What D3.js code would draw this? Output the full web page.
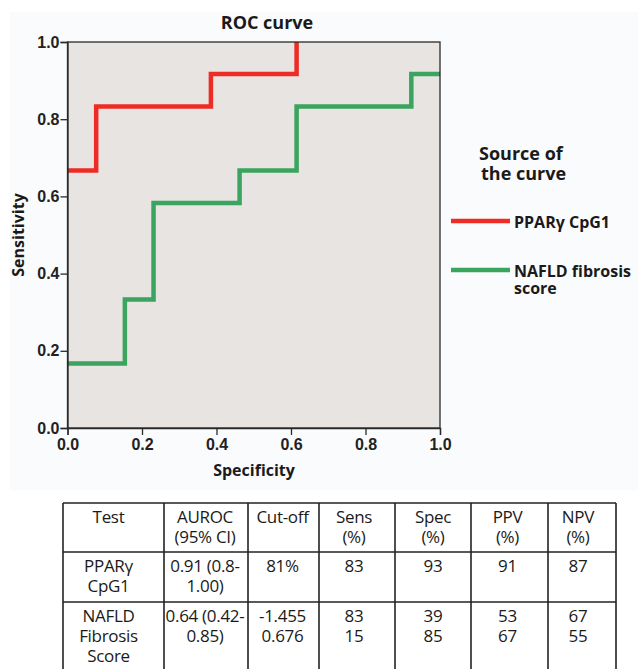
<!DOCTYPE html>
<html>
<head>
<meta charset="utf-8">
<script src="https://cdn.jsdelivr.net/npm/d3@7"></script>
<style>
  body { margin: 0; background: #fff; }
  svg text { font-family: "Open Sans", "DejaVu Sans", sans-serif; fill: #1a1a1a; }
  .tick text { font-family: "Liberation Sans", Arial, sans-serif; font-weight: bold; font-size: 16px; fill: #222; }
</style>
</head>
<body>
<div id="chart"></div>
<script>
// ROC data: x is the axis labelled "Specificity", y is sensitivity
var pparSpec = [0, 0.077, 0.385, 0.615];
var pparSens = [0.667, 0.833, 0.917, 1.0];
var naflSpec = [0, 0.154, 0.231, 0.462, 0.615, 0.923, 1.0];
var naflSens = [0.167, 0.333, 0.583, 0.667, 0.833, 0.917, 0.917];

var seriesNames = ["PPARγ CpG1", ["NAFLD fibrosis", "score"]];
var seriesColors = ["#ee2b25", "#3ba45e"];
var axisTicks = [0, 0.2, 0.4, 0.6, 0.8, 1.0];

// table
var tableHeader = [["Test"], ["AUROC", "(95% CI)"], ["Cut-off"], ["Sens", "(%)"], ["Spec", "(%)"], ["PPV", "(%)"], ["NPV", "(%)"]];
var tableRows = [
    [["PPARγ", "CpG1"], ["0.91 (0.8-", "1.00)"], ["81%"], ["83"], ["93"], ["91"], ["87"]],
    [["NAFLD", "Fibrosis", "Score"], ["0.64 (0.42-", "0.85)"], ["-1.455", "0.676"], ["83", "15"], ["39", "85"], ["53", "67"], ["67", "55"]]
];
var colWidths = [101, 84, 71, 76, 76, 77, 68];

var W = 638, H = 669;
var svg = d3.select("#chart").append("svg")
    .attr("width", W).attr("height", H);

// figure background (very light blue-white)
svg.append("rect").attr("x", 10).attr("y", 12)
    .attr("width", W - 10).attr("height", 478)
    .attr("fill", "#fafbfd");

var x = d3.scaleLinear().domain([0, 1]).range([67.5, 440]);
var y = d3.scaleLinear().domain([0, 1]).range([428, 42]);

// plot area
svg.append("rect")
    .attr("x", x(0)).attr("y", y(1))
    .attr("width", x(1) - x(0)).attr("height", y(0) - y(1))
    .attr("fill", "#e7e4e2");

var line = d3.line()
    .x(function(d) { return x(d[0]); })
    .y(function(d) { return y(d[1]); })
    .curve(d3.curveStepAfter);

var curves = [d3.zip(pparSpec, pparSens), d3.zip(naflSpec, naflSens)];
svg.selectAll("path.roc").data(curves).enter().append("path")
    .attr("class", "roc")
    .attr("d", line)
    .attr("fill", "none")
    .attr("stroke", function(d, i) { return seriesColors[i]; })
    .attr("stroke-width", 4.5)
    .attr("stroke-linejoin", "miter");

// frame
svg.append("rect")
    .attr("x", x(0)).attr("y", y(1))
    .attr("width", x(1) - x(0)).attr("height", y(0) - y(1))
    .attr("fill", "none").attr("stroke", "#2a2a2a").attr("stroke-width", 1.3);

var fmt = d3.format(".1f");
var xAxis = svg.append("g").attr("transform", "translate(0," + y(0) + ")")
    .call(d3.axisBottom(x).tickValues(axisTicks).tickFormat(fmt).tickSize(7).tickPadding(4));
var yAxis = svg.append("g").attr("transform", "translate(" + x(0) + ",0)")
    .call(d3.axisLeft(y).tickValues(axisTicks).tickFormat(fmt).tickSize(7).tickPadding(1));
[xAxis, yAxis].forEach(function(a) {
    a.select(".domain").attr("stroke", "#2a2a2a").attr("stroke-width", 1.3);
    a.selectAll(".tick line").attr("stroke", "#2a2a2a").attr("stroke-width", 1.3);
});

// titles
svg.append("text").attr("x", 267).attr("y", 29)
    .attr("text-anchor", "middle").attr("font-weight", "bold").attr("font-size", 18)
    .text("ROC curve");
svg.append("text").attr("x", 254).attr("y", 476)
    .attr("text-anchor", "middle").attr("font-weight", "bold").attr("font-size", 16)
    .text("Specificity");
svg.append("text").attr("transform", "translate(24,235) rotate(-90)")
    .attr("text-anchor", "middle").attr("font-weight", "bold").attr("font-size", 16)
    .text("Sensitivity");

// legend
var lg = svg.append("g");
lg.append("text").attr("x", 479).attr("y", 160)
    .attr("font-weight", "bold").attr("font-size", 18).text("Source of");
lg.append("text").attr("x", 481).attr("y", 180)
    .attr("font-weight", "bold").attr("font-size", 18).text("the curve");

var legendY = [221, 270];
var items = lg.selectAll("g.item").data(seriesNames).enter().append("g")
    .attr("class", "item")
    .attr("transform", function(d, i) { return "translate(0," + legendY[i] + ")"; });
items.append("line").attr("x1", 451).attr("x2", 510)
    .attr("stroke", function(d, i) { return seriesColors[i]; })
    .attr("stroke-width", 4.5);
items.append("text").attr("x", 514).attr("y", 7)
    .attr("font-weight", "bold").attr("font-size", 16)
    .selectAll("tspan")
    .data(function(d) { return [].concat(d); })
    .enter().append("tspan")
    .attr("x", 514).attr("dy", function(d, j) { return j ? 17 : 0; })
    .text(function(d) { return d; });

// table
var tableX = 63, tableTop = 503;
var rowHeights = [49, 50, 80];
var colEdges = [tableX].concat(Array.from(d3.cumsum(colWidths), function(v) { return tableX + v; }));
var rowEdges = [tableTop].concat(Array.from(d3.cumsum(rowHeights), function(v) { return tableTop + v; }));
var colShift = [-5, -1, -1, -3, 0, -2, -4];
var lineGap = 20;

var tbl = svg.append("g");
tbl.append("rect").attr("x", tableX).attr("y", tableTop)
    .attr("width", colEdges[colEdges.length - 1] - tableX).attr("height", H)
    .attr("fill", "#fff");

var allRows = [tableHeader].concat(tableRows);
allRows.forEach(function(row, r) {
    var g = tbl.append("g");
    g.selectAll("text").data(row).enter().append("text")
        .attr("text-anchor", "middle")
        .attr("font-size", 17)
        .attr("letter-spacing", "-0.3px")
        .attr("y", rowEdges[r] + 20)
        .each(function(cell, c) {
            var cx = (colEdges[c] + colEdges[c + 1]) / 2 + colShift[c];
            d3.select(this).selectAll("tspan").data(cell).enter().append("tspan")
                .attr("x", cx)
                .attr("dy", function(d, j) { return j ? lineGap : 0; })
                .text(function(d) { return d; });
        });
});

// grid lines
tbl.selectAll("line.v").data(colEdges).enter().append("line")
    .attr("x1", function(d) { return d; }).attr("x2", function(d) { return d; })
    .attr("y1", tableTop).attr("y2", H)
    .attr("stroke", "#222").attr("stroke-width", 1.6);
tbl.selectAll("line.h").data(rowEdges.slice(0, 3)).enter().append("line")
    .attr("x1", tableX).attr("x2", colEdges[colEdges.length - 1])
    .attr("y1", function(d) { return d; }).attr("y2", function(d) { return d; })
    .attr("stroke", "#222").attr("stroke-width", 1.6);
</script>
</body>
</html>
